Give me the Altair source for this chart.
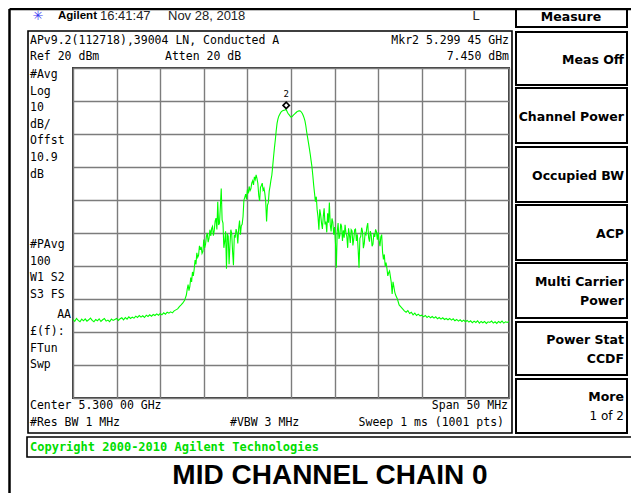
import altair as alt
import pandas as pd

# ---------------- data ----------------
CENTER_GHZ = 5.300
SPAN_MHZ = 50.0
REF_DBM = 20
BOTTOM_DBM = -80

# left noise floor: -25.0 .. -12.2 MHz from centre, every 0.2 MHz
FLOOR_LEFT_START_MHZ, FLOOR_LEFT_STEP_MHZ = -25.0, 0.2
FLOOR_LEFT_DBM = [
    -56.2, -56.8, -55.9, -56.5, -56.9,
    -56.1, -56.6, -56.0, -56.7, -56.3,
    -55.8, -56.5, -56.9, -56.2, -56.6,
    -56.0, -56.8, -56.3, -55.9, -56.7,
    -56.4, -56.9, -56.1, -56.5, -56.2,
    -55.9, -56.5, -56.0, -55.7, -56.3,
    -55.6, -56.1, -55.4, -55.9, -55.5,
    -55.8, -55.2, -55.6, -55.0, -55.5,
    -55.1, -55.6, -54.9, -55.3, -54.8,
    -55.2, -54.7, -55.0, -54.5, -54.9,
    -54.4, -54.8, -54.2, -54.6, -54.0,
    -54.3, -53.9, -54.2, -53.6, -53.3,
    -53.0, -52.3, -51.8, -51.2, -50.4,
]

# occupied band: -12.0 .. +12.0 MHz from centre, every 0.1 MHz
BAND_START_MHZ, BAND_STEP_MHZ = -12.0, 0.1
BAND_DBM = [
    -48.8, -47.0, -45.6, -47.5, -46.2, -43.5, -44.8, -41.8, -43.0, -40.9,
    -38.2, -39.5, -36.0, -37.4, -36.8, -33.9, -35.1, -34.2, -36.2, -35.6,
    -32.0, -34.5, -33.4, -31.0, -30.0, -32.8, -31.6, -29.0, -30.9, -28.6,
    -28.0, -30.8, -29.2, -26.4, -25.5, -28.9, -20.5, -27.6, -27.0, -22.0,
    -16.5, -26.0, -27.0, -34.5, -32.5, -29.5, -40.8, -30.2, -31.0, -39.5,
    -33.5, -29.0, -30.2, -35.6, -39.8, -30.6, -31.4, -28.8, -29.8, -33.2,
    -28.6, -26.2, -30.5, -27.8, -27.4, -25.0, -20.0, -19.2, -18.2, -19.8,
    -16.8, -18.0, -15.9, -17.2, -16.6, -14.8, -14.2, -15.4, -13.0, -13.8,
    -12.4, -13.5, -15.0, -18.6, -20.3, -16.2, -15.6, -14.9, -17.0, -16.4,
    -18.0, -20.5, -26.5, -21.6, -20.8, -17.3, -15.8, -14.0, -12.5, -9.8,
    -6.9, -4.2, -1.8, 0.9, 3.2, 4.5, 5.4, 5.9, 6.4, 6.8,
    7.0, 7.1, 7.2, 7.3, 7.45, 7.1, 6.5, 6.1, 5.8, 5.4,
    5.1, 5.2, 5.5, 5.8, 6.0, 6.3, 6.5, 6.8, 6.9, 7.0,
    7.0, 6.9, 6.6, 6.2, 5.6, 4.9, 4.0, 2.5, 0.6, -1.0,
    -2.6, -4.3, -6.0, -8.0, -9.9, -12.5, -15.5, -18.0, -20.5, -19.0,
    -23.0, -25.2, -29.0, -22.8, -24.5, -27.0, -28.8, -25.0, -22.5, -27.4,
    -26.5, -29.8, -24.0, -26.9, -20.8, -27.5, -29.5, -25.6, -26.8, -30.5,
    -28.2, -33.0, -40.5, -29.6, -27.0, -31.8, -30.8, -27.2, -28.0, -32.4,
    -29.2, -31.4, -27.5, -29.9, -31.0, -34.5, -28.6, -30.6, -33.0, -29.0,
    -29.4, -33.8, -31.8, -29.0, -28.8, -32.4, -30.4, -35.0, -40.5, -31.6,
    -31.0, -28.4, -29.5, -34.6, -33.2, -30.0, -30.5, -28.2, -27.0, -31.4,
    -32.6, -29.4, -30.8, -34.0, -33.4, -30.2, -31.2, -28.9, -29.6, -32.0,
    -29.8, -32.4, -34.0, -31.2, -30.5, -35.8, -38.0, -36.5, -40.0, -39.0,
    -40.7, -43.0, -42.0, -41.5, -43.2, -45.0, -48.5, -44.8, -46.3, -47.9,
    -48.8,
]

# right noise floor: +12.2 .. +25.0 MHz from centre, every 0.2 MHz
FLOOR_RIGHT_START_MHZ, FLOOR_RIGHT_STEP_MHZ = 12.2, 0.2
FLOOR_RIGHT_DBM = [
    -50.0, -51.8, -52.4, -53.0,
    -53.6, -54.0, -53.5, -54.4, -54.0,
    -54.8, -54.3, -55.0, -54.6, -55.1,
    -54.9, -55.4, -55.0, -55.6, -55.2,
    -55.7, -55.3, -55.8, -55.4, -56.0,
    -55.6, -56.1, -55.7, -56.2, -55.9,
    -56.3, -55.9, -56.4, -56.0, -56.6,
    -56.2, -56.7, -56.3, -56.8, -56.4,
    -56.9, -56.5, -57.0, -56.6, -57.2,
    -56.7, -57.1, -56.6, -57.3, -56.8,
    -57.2, -56.8, -57.4, -56.9, -57.1,
    -56.7, -57.3, -56.9, -57.4, -56.8,
    -57.2, -56.7, -57.3, -56.9, -57.1,
    -56.8,
]

MARKER_GHZ = 5.29945
MARKER_DBM = 7.450
MARKER_LABEL = "2"

GRID_FREQ_GHZ = [5.275, 5.280, 5.285, 5.290, 5.295, 5.300,
                 5.305, 5.310, 5.315, 5.320, 5.325]
GRID_DBM = [20, 10, 0, -10, -20, -30, -40, -50, -60, -70, -80]

HEADER_BRAND = "Agilent"
HEADER_TIME = "16:41:47"
HEADER_DATE = "Nov 28, 2018"
HEADER_FLAG = "L"
TITLE_LINE = "APv9.2(112718),39004 LN, Conducted A"
MARKER_READOUT = ["Mkr2  5.299 45 GHz", "7.450 dBm"]
REF_LINE = ["Ref 20 dBm", "Atten 20 dB"]
LEFT_UPPER = ["#Avg", "Log", "10", "dB/", "Offst", "10.9", "dB"]
LEFT_LOWER = ["#PAvg", "100", "W1  S2", "S3  FS"]
LEFT_AA = "AA"
LEFT_BOTTOM = ["£(f):", "FTun", "Swp"]
FOOT_LEFT = ["Center 5.300 00 GHz", "#Res BW 1 MHz"]
FOOT_MID = "#VBW 3 MHz"
FOOT_RIGHT = ["Span 50 MHz", "Sweep 1 ms (1001 pts)"]
MENU_TITLE = "Measure"
MENU_KEYS = [["Meas Off"], ["Channel Power"], ["Occupied BW"], ["ACP"],
             ["Multi Carrier", "Power"], ["Power Stat", "CCDF"], ["More", "1 of 2"]]
COPYRIGHT = "Copyright 2000-2010 Agilent Technologies"
CAPTION = "MID CHANNEL CHAIN 0"

# ---------------- build ----------------
def seg(start, step, vals):
    return [CENTER_GHZ + (start + i * step) / 1000.0 for i in range(len(vals))]

freq_ghz = (seg(FLOOR_LEFT_START_MHZ, FLOOR_LEFT_STEP_MHZ, FLOOR_LEFT_DBM)
            + seg(BAND_START_MHZ, BAND_STEP_MHZ, BAND_DBM)
            + seg(FLOOR_RIGHT_START_MHZ, FLOOR_RIGHT_STEP_MHZ, FLOOR_RIGHT_DBM))
trace = pd.DataFrame({"freq": freq_ghz, "dbm": FLOOR_LEFT_DBM + BAND_DBM + FLOOR_RIGHT_DBM})
marker = pd.DataFrame({"freq": [MARKER_GHZ], "dbm": [MARKER_DBM], "lab": [MARKER_LABEL]})

OX, OY = 73, 68          # page position of the graticule's top-left corner
W, H = 436, 330
SVG_W, SVG_H = 623, 485
MONO = "DejaVu Sans Mono"
BTN = "DejaVu Sans"
SANS = "Liberation Sans"

xs = alt.Scale(domain=[CENTER_GHZ - SPAN_MHZ / 2000, CENTER_GHZ + SPAN_MHZ / 2000], nice=False, zero=False)
ys = alt.Scale(domain=[BOTTOM_DBM, REF_DBM], nice=False, zero=False)
gridax = dict(grid=True, labels=False, ticks=False, domain=False, title=None,
              gridColor="#7c7c7c", gridWidth=1.4, gridOpacity=1)
X_AX = alt.Axis(values=GRID_FREQ_GHZ, **gridax)
Y_AX = alt.Axis(values=GRID_DBM, **gridax)
X_ENC = alt.X("freq:Q", scale=xs, axis=X_AX, sort=None)
Y_ENC = alt.Y("dbm:Q", scale=ys, axis=Y_AX)

line = alt.Chart(trace).mark_line(color="#00ff00", strokeWidth=1.1, clip=True).encode(x=X_ENC, y=Y_ENC)
mk = alt.Chart(marker).mark_point(shape="diamond", filled=True, fill="white", stroke="black",
                                  strokeWidth=1.6, size=40, opacity=1, yOffset=-4).encode(x=X_ENC, y=Y_ENC)
mk_lab = alt.Chart(marker).mark_text(font=MONO, fontSize=9, dy=-15, color="black").encode(
    x=X_ENC, y=Y_ENC, text="lab:N")


def one(s="x"):
    return alt.InlineData(values=[{"t": s}])


def txt(s, x, y, align="left", font=MONO, size=11.5, weight="normal", color="black"):
    return alt.Chart(one(s)).mark_text(align=align, baseline="middle", font=font, fontSize=size,
                                       fontWeight=weight, color=color).encode(
        x=alt.value(x - OX), y=alt.value(y - OY), text="t:N")


def box(x1, y1, x2, y2, sw=2.0):
    return alt.Chart(one()).mark_rect(fillOpacity=0, stroke="black", strokeWidth=sw).encode(
        x=alt.value(x1 - OX), x2=alt.value(x2 - OX), y=alt.value(y1 - OY), y2=alt.value(y2 - OY))


def rule(x1, y1, x2, y2, sw=2.0):
    return alt.Chart(one()).mark_rule(color="black", strokeWidth=sw).encode(
        x=alt.value(x1 - OX), x2=alt.value(x2 - OX), y=alt.value(y1 - OY), y2=alt.value(y2 - OY))


layers = [line, mk, mk_lab]

# frame
layers += [rule(9.5, 9, 8 + SVG_W, 9, 2.5), rule(9.5, 9, 9.5, 8 + SVG_H, 2.5)]
layers += [box(28, 31, 512, 433, 1.6)]
layers += [box(27, 437, 650, 457, 1.6)]

# header
layers += [txt("\u2733", 38, 16, "center", BTN, 13, "normal", "#3a3af0")]
layers += [txt(HEADER_BRAND, 58, 16, "left", SANS, 11.5, "bold")]
layers += [txt(HEADER_TIME, 100, 16, "left", SANS, 13, "normal", "#222222")]
layers += [txt(HEADER_DATE, 168, 16, "left", SANS, 13, "normal", "#222222")]
layers += [txt(HEADER_FLAG, 476, 16, "center", SANS, 13, "normal", "#222222")]

# main box text
layers += [txt(TITLE_LINE, 30, 41)]
layers += [txt(MARKER_READOUT[0], 509, 41, "right"), txt(MARKER_READOUT[1], 509, 57, "right")]
layers += [txt(REF_LINE[0], 30, 57), txt(REF_LINE[1], 165, 57)]
for i, s in enumerate(LEFT_UPPER):
    layers.append(txt(s, 30, 75 + i * 16.6))
for i, s in enumerate(LEFT_LOWER):
    layers.append(txt(s, 30, 245 + i * 16.7))
layers.append(txt(LEFT_AA, 71, 315, "right"))
for i, s in enumerate(LEFT_BOTTOM):
    layers.append(txt(s, 30, 332 + i * 16.6))
layers += [txt(FOOT_LEFT[0], 30, 406), txt(FOOT_LEFT[1], 30, 423)]
layers += [txt(FOOT_MID, 230, 423)]
layers += [txt(FOOT_RIGHT[0], 508, 406, "right"), txt(FOOT_RIGHT[1], 504, 423, "right")]

# copyright + caption
layers += [txt(COPYRIGHT, 30, 447, "left", MONO, 12, "bold", "#00dd00")]
layers += [txt(CAPTION, 330, 476, "center", SANS, 28, "bold")]

# menu
layers += [box(516, 7, 627, 27), txt(MENU_TITLE, 571, 17, "center", BTN, 12.5, "bold")]
key_boxes = [(32, 85), (88, 143), (147, 202), (205, 260), (263, 318), (322, 375), (379, 433)]
for (t, b), labels in zip(key_boxes, MENU_KEYS):
    layers.append(box(516, t, 627, b))
    mid = (t + b) / 2
    if len(labels) == 1:
        layers.append(txt(labels[0], 624, mid + 1, "right", BTN, 12.5, "bold"))
    else:
        w2 = "normal" if labels[0] == "More" else "bold"
        layers.append(txt(labels[0], 624, mid - 9, "right", BTN, 12.5, "bold"))
        layers.append(txt(labels[1], 624, mid + 10, "right", BTN, 12 if w2 == "normal" else 12.5, w2))

chart = alt.layer(*layers).properties(
    width=W, height=H,
    padding={"left": OX - 8, "top": OY - 8, "right": SVG_W - (OX - 8) - W, "bottom": SVG_H - (OY - 8) - H},
    autosize=alt.AutoSizeParams(type="none"),
    background="white",
).configure_view(stroke="#3c3c3c", strokeWidth=2)

chart.save("out.html", embed_options={"renderer": "svg", "actions": False})
